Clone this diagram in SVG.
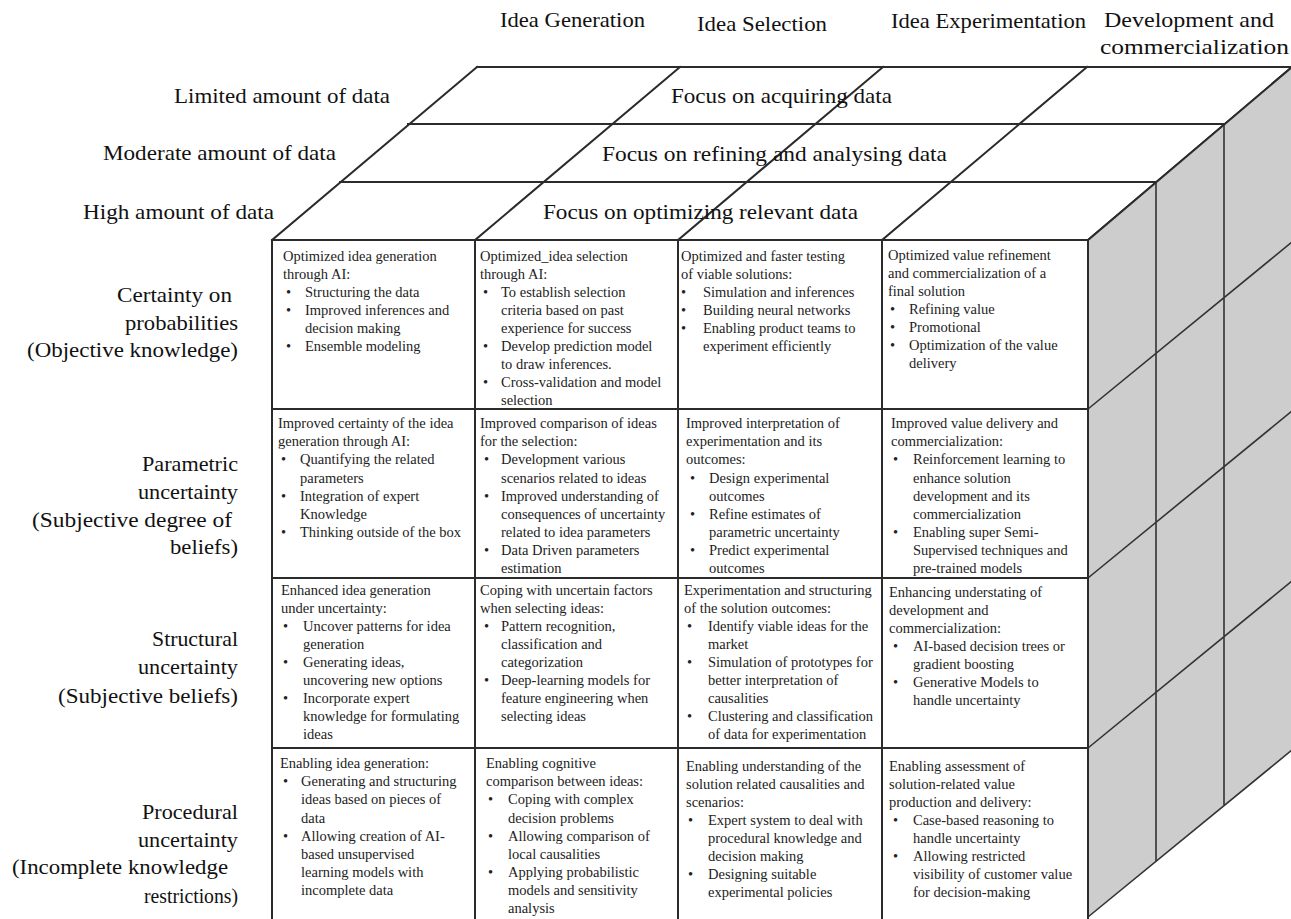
<svg xmlns="http://www.w3.org/2000/svg" width="1291" height="919" viewBox="0 0 1291 919">
<style>
.big{font-family:"Liberation Serif","Times New Roman",serif;font-size:21px;fill:#111}
.c{font-family:"Liberation Serif","Times New Roman",serif;font-size:14.5px;fill:#222}
.ln{stroke:#2b2b2b;stroke-width:2;fill:none;stroke-linecap:square}
.lt{stroke:#333;stroke-width:1.6;fill:none}
</style>
<rect width="1291" height="919" fill="#fff"/>

<g id="top-face">
<polygon points="272,240 477,67 1292,67 1088,240" fill="#fff"/>
<path class="ln" d="M272 240H1088M340 182H1156M408 124H1224M477 67H1292M272 240L477 67M475 240L680 67M678 240L883 67M882 240L1087 67M1088 240L1292 67"/>
</g>

<g id="right-face">
<polygon points="1088,240 1292,67 1292,750 1088,917" fill="#cdcdcd"/>
<path class="lt" d="M1156 182V862M1224 124V806M1088 409L1292 242M1088 578L1292 411M1088 748L1292 581M1088 917L1292 750"/>
<path class="ln" d="M1088 240L1292 67"/>
</g>

<g id="front-face">
<rect x="272" y="240" width="816" height="690" fill="#fff" class="ln"/>
<path class="ln" d="M272 409H1088M272 578H1088M272 748H1088M475 240V925M678 240V925M882 240V925"/>
</g>

<g id="column-headers">
<text class="big" x="500" y="27" textLength="145" lengthAdjust="spacingAndGlyphs">Idea Generation</text>
<text class="big" x="697" y="31" textLength="130" lengthAdjust="spacingAndGlyphs">Idea Selection</text>
<text class="big" x="891" y="28" textLength="195" lengthAdjust="spacingAndGlyphs">Idea Experimentation</text>
<text class="big" x="1104" y="27" textLength="170" lengthAdjust="spacingAndGlyphs">Development and</text>
<text class="big" x="1100" y="54" textLength="189" lengthAdjust="spacingAndGlyphs">commercialization</text>
</g>

<g id="data-labels">
<text class="big" x="174" y="103" textLength="216" lengthAdjust="spacingAndGlyphs">Limited amount of data</text>
<text class="big" x="103" y="160" textLength="233" lengthAdjust="spacingAndGlyphs">Moderate amount of data</text>
<text class="big" x="83" y="219" textLength="191" lengthAdjust="spacingAndGlyphs">High amount of data</text>
</g>

<g id="top-face-texts">
<text class="big" x="671" y="103" textLength="221" lengthAdjust="spacingAndGlyphs">Focus on acquiring data</text>
<text class="big" x="602" y="161" textLength="345" lengthAdjust="spacingAndGlyphs">Focus on refining and analysing data</text>
<text class="big" x="543" y="219" textLength="315" lengthAdjust="spacingAndGlyphs">Focus on optimizing relevant data</text>
</g>

<g id="uncertainty-labels">
<text class="big" x="117" y="302" textLength="115" lengthAdjust="spacingAndGlyphs">Certainty on</text>
<text class="big" x="125" y="330" textLength="113" lengthAdjust="spacingAndGlyphs">probabilities</text>
<text class="big" x="27" y="357" textLength="211" lengthAdjust="spacingAndGlyphs">(Objective knowledge)</text>
<text class="big" x="142" y="471" textLength="96" lengthAdjust="spacingAndGlyphs">Parametric</text>
<text class="big" x="138" y="499" textLength="100" lengthAdjust="spacingAndGlyphs">uncertainty</text>
<text class="big" x="32" y="527" textLength="200" lengthAdjust="spacingAndGlyphs">(Subjective degree of</text>
<text class="big" x="170" y="554" textLength="68" lengthAdjust="spacingAndGlyphs">beliefs)</text>
<text class="big" x="152" y="646" textLength="86" lengthAdjust="spacingAndGlyphs">Structural</text>
<text class="big" x="138" y="674" textLength="100" lengthAdjust="spacingAndGlyphs">uncertainty</text>
<text class="big" x="58" y="703" textLength="180" lengthAdjust="spacingAndGlyphs">(Subjective beliefs)</text>
<text class="big" x="142" y="819" textLength="96" lengthAdjust="spacingAndGlyphs">Procedural</text>
<text class="big" x="138" y="847" textLength="100" lengthAdjust="spacingAndGlyphs">uncertainty</text>
<text class="big" x="12" y="874" textLength="216" lengthAdjust="spacingAndGlyphs">(Incomplete knowledge</text>
<text class="big" x="144" y="903" textLength="94" lengthAdjust="spacingAndGlyphs">restrictions)</text>
</g>

<g id="cell-r1c1"><text class="c">
<tspan x="283" y="261">Optimized idea generation</tspan>
<tspan x="283" y="279">through AI:</tspan>
<tspan x="286" y="297">•</tspan><tspan x="305" y="297">Structuring the data</tspan>
<tspan x="286" y="315">•</tspan><tspan x="305" y="315">Improved inferences and</tspan>
<tspan x="305" y="333">decision making</tspan>
<tspan x="286" y="351">•</tspan><tspan x="305" y="351">Ensemble modeling</tspan>
</text></g>

<g id="cell-r1c2"><text class="c">
<tspan x="480" y="261">Optimized_idea selection</tspan>
<tspan x="480" y="279">through AI:</tspan>
<tspan x="483" y="297">•</tspan><tspan x="501" y="297">To establish selection</tspan>
<tspan x="501" y="315">criteria based on past</tspan>
<tspan x="501" y="333">experience for success</tspan>
<tspan x="483" y="351">•</tspan><tspan x="501" y="351">Develop prediction model</tspan>
<tspan x="501" y="369">to draw inferences.</tspan>
<tspan x="483" y="387">•</tspan><tspan x="501" y="387">Cross-validation and model</tspan>
<tspan x="501" y="405">selection</tspan>
</text></g>

<g id="cell-r1c3"><text class="c">
<tspan x="681" y="261">Optimized and faster testing</tspan>
<tspan x="681" y="279">of viable solutions:</tspan>
<tspan x="681" y="297">•</tspan><tspan x="703" y="297">Simulation and inferences</tspan>
<tspan x="681" y="315">•</tspan><tspan x="703" y="315">Building neural networks</tspan>
<tspan x="681" y="333">•</tspan><tspan x="703" y="333">Enabling product teams to</tspan>
<tspan x="703" y="351">experiment efficiently</tspan>
</text></g>

<g id="cell-r1c4"><text class="c">
<tspan x="888" y="260">Optimized value refinement</tspan>
<tspan x="888" y="278">and commercialization of a</tspan>
<tspan x="888" y="296">final solution</tspan>
<tspan x="890" y="314">•</tspan><tspan x="909" y="314">Refining value</tspan>
<tspan x="890" y="332">•</tspan><tspan x="909" y="332">Promotional</tspan>
<tspan x="890" y="350">•</tspan><tspan x="909" y="350">Optimization of the value</tspan>
<tspan x="909" y="368">delivery</tspan>
</text></g>

<g id="cell-r2c1"><text class="c">
<tspan x="278" y="428">Improved certainty of the idea</tspan>
<tspan x="278" y="446">generation through AI:</tspan>
<tspan x="281" y="464">•</tspan><tspan x="300" y="464">Quantifying the related</tspan>
<tspan x="300" y="483">parameters</tspan>
<tspan x="281" y="501">•</tspan><tspan x="300" y="501">Integration of expert</tspan>
<tspan x="300" y="519">Knowledge</tspan>
<tspan x="281" y="537">•</tspan><tspan x="300" y="537">Thinking outside of the box</tspan>
</text></g>

<g id="cell-r2c2"><text class="c">
<tspan x="480" y="428">Improved comparison of ideas</tspan>
<tspan x="480" y="446">for the selection:</tspan>
<tspan x="484" y="464">•</tspan><tspan x="501" y="464">Development various</tspan>
<tspan x="501" y="483">scenarios related to ideas</tspan>
<tspan x="484" y="501">•</tspan><tspan x="501" y="501">Improved understanding of</tspan>
<tspan x="501" y="519">consequences of uncertainty</tspan>
<tspan x="501" y="537">related to idea parameters</tspan>
<tspan x="484" y="555">•</tspan><tspan x="501" y="555">Data Driven parameters</tspan>
<tspan x="501" y="573">estimation</tspan>
</text></g>

<g id="cell-r2c3"><text class="c">
<tspan x="686" y="428">Improved interpretation of</tspan>
<tspan x="686" y="446">experimentation and its</tspan>
<tspan x="686" y="464">outcomes:</tspan>
<tspan x="690" y="483">•</tspan><tspan x="709" y="483">Design experimental</tspan>
<tspan x="709" y="501">outcomes</tspan>
<tspan x="690" y="519">•</tspan><tspan x="709" y="519">Refine estimates of</tspan>
<tspan x="709" y="537">parametric uncertainty</tspan>
<tspan x="690" y="555">•</tspan><tspan x="709" y="555">Predict experimental</tspan>
<tspan x="709" y="573">outcomes</tspan>
</text></g>

<g id="cell-r2c4"><text class="c">
<tspan x="891" y="428">Improved value delivery and</tspan>
<tspan x="891" y="446">commercialization:</tspan>
<tspan x="893" y="464">•</tspan><tspan x="913" y="464">Reinforcement learning to</tspan>
<tspan x="913" y="483">enhance solution</tspan>
<tspan x="913" y="501">development and its</tspan>
<tspan x="913" y="519">commercialization</tspan>
<tspan x="893" y="537">•</tspan><tspan x="913" y="537">Enabling super Semi-</tspan>
<tspan x="913" y="555">Supervised techniques and</tspan>
<tspan x="913" y="573">pre-trained models</tspan>
</text></g>

<g id="cell-r3c1"><text class="c">
<tspan x="281" y="595">Enhanced idea generation</tspan>
<tspan x="281" y="613">under uncertainty:</tspan>
<tspan x="283" y="631">•</tspan><tspan x="303" y="631">Uncover patterns for idea</tspan>
<tspan x="303" y="649">generation</tspan>
<tspan x="283" y="667">•</tspan><tspan x="303" y="667">Generating ideas,</tspan>
<tspan x="303" y="685">uncovering new options</tspan>
<tspan x="283" y="703">•</tspan><tspan x="303" y="703">Incorporate expert</tspan>
<tspan x="303" y="721">knowledge for formulating</tspan>
<tspan x="303" y="739">ideas</tspan>
</text></g>

<g id="cell-r3c2"><text class="c">
<tspan x="480" y="595">Coping with uncertain factors</tspan>
<tspan x="480" y="613">when selecting ideas:</tspan>
<tspan x="484" y="631">•</tspan><tspan x="501" y="631">Pattern recognition,</tspan>
<tspan x="501" y="649">classification and</tspan>
<tspan x="501" y="667">categorization</tspan>
<tspan x="484" y="685">•</tspan><tspan x="501" y="685">Deep-learning models for</tspan>
<tspan x="501" y="703">feature engineering when</tspan>
<tspan x="501" y="721">selecting ideas</tspan>
</text></g>

<g id="cell-r3c3"><text class="c">
<tspan x="684" y="595">Experimentation and structuring</tspan>
<tspan x="684" y="613">of the solution outcomes:</tspan>
<tspan x="687" y="631">•</tspan><tspan x="708" y="631">Identify viable ideas for the</tspan>
<tspan x="708" y="649">market</tspan>
<tspan x="687" y="667">•</tspan><tspan x="708" y="667">Simulation of prototypes for</tspan>
<tspan x="708" y="685">better interpretation of</tspan>
<tspan x="708" y="703">causalities</tspan>
<tspan x="687" y="721">•</tspan><tspan x="708" y="721">Clustering and classification</tspan>
<tspan x="708" y="739">of data for experimentation</tspan>
</text></g>

<g id="cell-r3c4"><text class="c">
<tspan x="889" y="597">Enhancing understating of</tspan>
<tspan x="889" y="615">development and</tspan>
<tspan x="889" y="633">commercialization:</tspan>
<tspan x="893" y="651">•</tspan><tspan x="913" y="651">AI-based decision trees or</tspan>
<tspan x="913" y="669">gradient boosting</tspan>
<tspan x="893" y="687">•</tspan><tspan x="913" y="687">Generative Models to</tspan>
<tspan x="913" y="705">handle uncertainty</tspan>
</text></g>

<g id="cell-r4c1"><text class="c">
<tspan x="280" y="768">Enabling idea generation:</tspan>
<tspan x="283" y="786">•</tspan><tspan x="301" y="786">Generating and structuring</tspan>
<tspan x="301" y="804">ideas based on pieces of</tspan>
<tspan x="301" y="823">data</tspan>
<tspan x="283" y="841">•</tspan><tspan x="301" y="841">Allowing creation of AI-</tspan>
<tspan x="301" y="859">based unsupervised</tspan>
<tspan x="301" y="877">learning models with</tspan>
<tspan x="301" y="895">incomplete data</tspan>
</text></g>

<g id="cell-r4c2"><text class="c">
<tspan x="486" y="768">Enabling cognitive</tspan>
<tspan x="486" y="786">comparison between ideas:</tspan>
<tspan x="488" y="804">•</tspan><tspan x="508" y="804">Coping with complex</tspan>
<tspan x="508" y="823">decision problems</tspan>
<tspan x="488" y="841">•</tspan><tspan x="508" y="841">Allowing comparison of</tspan>
<tspan x="508" y="859">local causalities</tspan>
<tspan x="488" y="877">•</tspan><tspan x="508" y="877">Applying probabilistic</tspan>
<tspan x="508" y="895">models and sensitivity</tspan>
<tspan x="508" y="913">analysis</tspan>
</text></g>

<g id="cell-r4c3"><text class="c">
<tspan x="686" y="771">Enabling understanding of the</tspan>
<tspan x="686" y="789">solution related causalities and</tspan>
<tspan x="686" y="807">scenarios:</tspan>
<tspan x="688" y="825">•</tspan><tspan x="708" y="825">Expert system to deal with</tspan>
<tspan x="708" y="843">procedural knowledge and</tspan>
<tspan x="708" y="861">decision making</tspan>
<tspan x="688" y="879">•</tspan><tspan x="708" y="879">Designing suitable</tspan>
<tspan x="708" y="897">experimental policies</tspan>
</text></g>

<g id="cell-r4c4"><text class="c">
<tspan x="889" y="771">Enabling assessment of</tspan>
<tspan x="889" y="789">solution-related value</tspan>
<tspan x="889" y="807">production and delivery:</tspan>
<tspan x="893" y="825">•</tspan><tspan x="913" y="825">Case-based reasoning to</tspan>
<tspan x="913" y="843">handle uncertainty</tspan>
<tspan x="893" y="861">•</tspan><tspan x="913" y="861">Allowing restricted</tspan>
<tspan x="913" y="879">visibility of customer value</tspan>
<tspan x="913" y="897">for decision-making</tspan>
</text></g>
</svg>
